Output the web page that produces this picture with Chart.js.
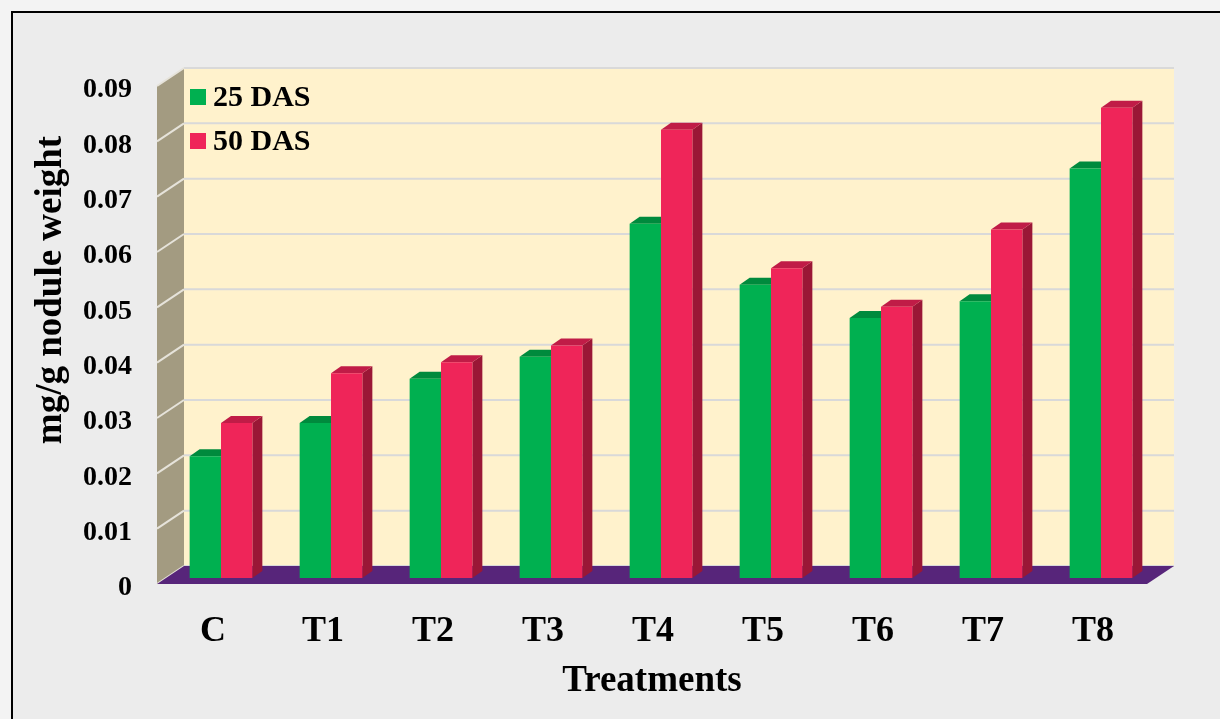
<!DOCTYPE html>
<html lang="en">
<head>
  <meta charset="UTF-8" />
  <title>Nodule weight by treatment</title>
  <script src="https://cdn.jsdelivr.net/npm/chart.js"></script>
  <style>
    body { margin: 0; background: #f3f3f3; }
    canvas { display: block; }
  </style>
</head>
<body>
  <canvas id="myChart" width="1220" height="719"></canvas>

  <script>
    const categories = ['C', 'T1', 'T2', 'T3', 'T4', 'T5', 'T6', 'T7', 'T8'];
    const das25 = [0.022, 0.028, 0.036, 0.040, 0.064, 0.053, 0.047, 0.050, 0.074];
    const das50 = [0.028, 0.037, 0.039, 0.042, 0.081, 0.056, 0.049, 0.063, 0.085];
    const yTitle = 'mg/g nodule weight';
    const xTitle = 'Treatments';

    const FONT = '"Liberation Serif", "Times New Roman", serif';
    // depth of the box (front plane -> back wall) and of each bar
    const WALL = { dx: 27, dy: -18 };  // front to back
    const PLANE = { dx: 9, dy: -6 };   // front to bar plane
    const BAR = { dx: 10, dy: -7 };

    const colors = {
      green: '#00b050', greenTop: '#008a3d', greenSide: '#00702f',
      red: '#ef2559', redTop: '#c01c47', redSide: '#9a1736'
    };

    const box3d = {
      id: 'box3d',
      beforeDraw(chart) {
        const c = chart.ctx;
        c.save();
        c.fillStyle = '#f3f3f3';
        c.fillRect(0, 0, chart.width, chart.height);
        c.fillStyle = '#ececec';
        c.fillRect(13, 13, chart.width, chart.height);
        c.strokeStyle = '#000';
        c.lineWidth = 2;
        c.beginPath();
        c.moveTo(12, chart.height);
        c.lineTo(12, 12);
        c.lineTo(chart.width, 12);
        c.stroke();
        c.restore();
      },
      beforeDatasetsDraw(chart) {
        const c = chart.ctx;
        const a = chart.chartArea;
        const y = chart.scales.y;
        const fx = a.left - PLANE.dx, fyB = a.bottom - PLANE.dy, fyT = a.top - PLANE.dy;
        const bx = fx + WALL.dx, bR = a.right - PLANE.dx + WALL.dx;
        c.save();
        // back wall
        c.fillStyle = '#fff2cc';
        c.fillRect(bx, fyT + WALL.dy, bR - bx, fyB - fyT);
        // side wall
        c.fillStyle = '#a39b81';
        c.beginPath();
        c.moveTo(fx, fyT); c.lineTo(bx, fyT + WALL.dy);
        c.lineTo(bx, fyB + WALL.dy); c.lineTo(fx, fyB);
        c.closePath(); c.fill();
        // grid lines on back and side walls
        y.ticks.forEach(t => {
          const py = y.getPixelForValue(t.value) - PLANE.dy + WALL.dy;
          c.strokeStyle = '#d9d9d9';
          c.lineWidth = 2;
          c.beginPath(); c.moveTo(bx, py); c.lineTo(bR, py); c.stroke();
          c.strokeStyle = '#e6e3da';
          c.beginPath(); c.moveTo(fx, py - WALL.dy); c.lineTo(bx, py); c.stroke();
        });
        // floor
        c.fillStyle = '#57257a';
        c.beginPath();
        c.moveTo(fx, fyB); c.lineTo(a.right - PLANE.dx, fyB);
        c.lineTo(bR, fyB + WALL.dy); c.lineTo(bx, fyB + WALL.dy);
        c.closePath(); c.fill();
        // bar tops and sides
        chart.data.datasets.forEach((ds, di) => {
          chart.getDatasetMeta(di).data.forEach(bar => {
            const { x, y: top, base, width } = bar.getProps(['x', 'y', 'base', 'width'], true);
            const l = x - width / 2, r = x + width / 2;
            c.fillStyle = ds.sideColor;
            c.beginPath();
            c.moveTo(r, top); c.lineTo(r + BAR.dx, top + BAR.dy);
            c.lineTo(r + BAR.dx, base + BAR.dy); c.lineTo(r, base);
            c.closePath(); c.fill();
            c.fillStyle = ds.topColor;
            c.beginPath();
            c.moveTo(l, top); c.lineTo(l + BAR.dx, top + BAR.dy);
            c.lineTo(r + BAR.dx, top + BAR.dy); c.lineTo(r, top);
            c.closePath(); c.fill();
          });
        });
        c.restore();
      },
      afterDraw(chart) {
        const c = chart.ctx;
        c.save();
        // legend
        c.font = 'bold 30px ' + FONT;
        c.textBaseline = 'middle';
        c.textAlign = 'left';
        chart.data.datasets.forEach((ds, i) => {
          const ly = 97 + i * 44;
          c.fillStyle = ds.backgroundColor;
          c.fillRect(190, ly - 8, 16, 16);
          c.fillStyle = '#000';
          c.fillText(ds.label, 213, ly + 1);
        });
        // axis titles
        c.font = 'bold 37px ' + FONT;
        c.textAlign = 'center';
        c.fillText(xTitle, (chart.chartArea.left + chart.chartArea.right) / 2 - PLANE.dx, 681);
        c.translate(51, 290);
        c.rotate(-Math.PI / 2);
        c.fillText(yTitle, 0, 0);
        c.restore();
      }
    };

    const ctx = document.getElementById('myChart').getContext('2d');
    const chart = new Chart(ctx, {
      type: 'bar',
      data: {
        labels: categories,
        datasets: [{
          label: '25 DAS',
          data: das25,
          backgroundColor: colors.green,
          topColor: colors.greenTop,
          sideColor: colors.greenSide
        }, {
          label: '50 DAS',
          data: das50,
          backgroundColor: colors.red,
          topColor: colors.redTop,
          sideColor: colors.redSide
        }]
      },
      options: {
        responsive: false,
        animation: false,
        layout: { padding: { top: 80, right: 64, left: 0, bottom: 0 } },
        datasets: { bar: { categoryPercentage: 0.57, barPercentage: 1.0 } },
        plugins: { legend: { display: false }, tooltip: { enabled: false } },
        scales: {
          x: {
            grid: { display: false, drawTicks: false },
            border: { display: false },
            ticks: {
              color: '#000',
              font: { family: FONT, size: 36, weight: 'bold' },
              padding: 32,
              labelOffset: -8
            },
            afterFit(scale) { scale.height = 141; }
          },
          y: {
            min: 0,
            max: 0.09,
            grid: { display: false, drawTicks: false },
            border: { display: false },
            ticks: {
              stepSize: 0.01,
              color: '#000',
              font: { family: FONT, size: 28, weight: 'bold' },
              padding: 34,
              labelOffset: 10,
              callback: v => v === 0 ? '0' : v.toFixed(2)
            },
            afterFit(scale) { scale.width = 166; }
          }
        }
      },
      plugins: [box3d]
    });
  </script>
</body>
</html>
